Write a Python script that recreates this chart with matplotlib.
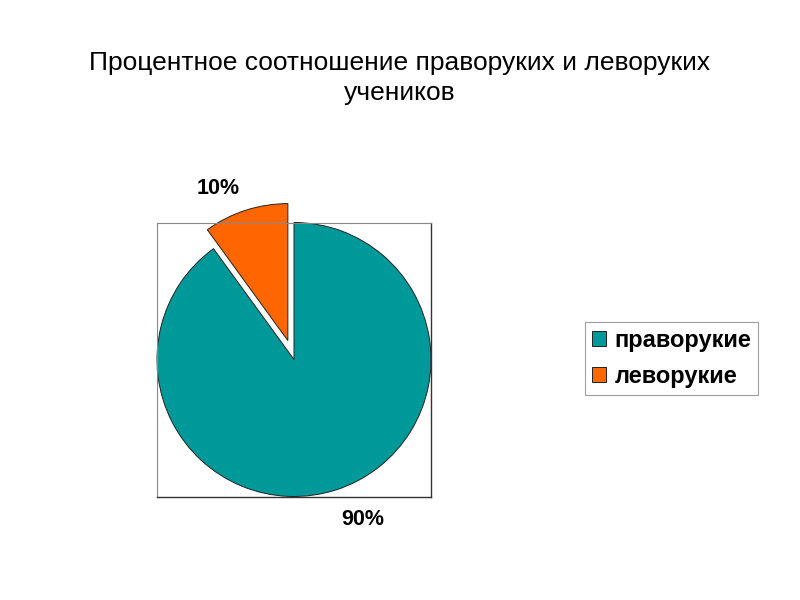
import matplotlib
matplotlib.use("Agg")
import matplotlib.pyplot as plt
from matplotlib.patches import Patch

plt.rcParams['font.family'] = ['Liberation Sans', 'DejaVu Sans']

title = "Процентное соотношение праворуких и леворуких\nучеников"
categories = ["праворукие", "леворукие"]
values = [90, 10]
colors = ["#009999", "#FF6600"]
explode = [0, 0.145]

fig = plt.figure(figsize=(8, 6), dpi=100)
fig.text(0.5, 1 - 78/600, title, ha='center', va='center', fontsize=19, linespacing=1.3)

ax = fig.add_axes([157/800, 1 - 497/600, 274/800, 275/600])
wedges, texts, autotexts = ax.pie(values, colors=colors, explode=explode, startangle=90,
                                  counterclock=False, radius=1,
                                  autopct=lambda p: f"{p:.0f}%", pctdistance=1.3,
                                  wedgeprops=dict(edgecolor='#222222', linewidth=0.7),
                                  textprops=dict(fontsize=15.5, fontweight='bold'))
for w in wedges:
    w.set_clip_on(False)
autotexts[0].set_position((0.50, -1.17))
autotexts[1].set_position((-0.55, 1.25))
ax.set_xlim(-1, 1)
ax.set_ylim(-1, 1)
ax.set_aspect('equal')
ax.set_frame_on(True)
ax.set_xticks([]); ax.set_yticks([])
for s in ['left', 'top']:
    ax.spines[s].set_visible(True)
    ax.spines[s].set_color('#888888'); ax.spines[s].set_linewidth(0.8)
for s in ['right', 'bottom']:
    ax.spines[s].set_visible(True)
    ax.spines[s].set_color('#333333'); ax.spines[s].set_linewidth(1.0)

handles = [Patch(facecolor=c, edgecolor='#222222', linewidth=0.7) for c in colors]
leg = fig.legend(handles, categories, loc='upper left',
                 bbox_to_anchor=(585/800, 1 - 322/600), frameon=True, fancybox=False,
                 prop=dict(size=17, weight='bold'), handlelength=0.6, handleheight=0.6,
                 handletextpad=0.35, borderpad=0.3, labelspacing=0.55, borderaxespad=0)
leg.get_frame().set_edgecolor('#888888')
leg.get_frame().set_linewidth(0.8)

fig.savefig("out.png", dpi=100)
